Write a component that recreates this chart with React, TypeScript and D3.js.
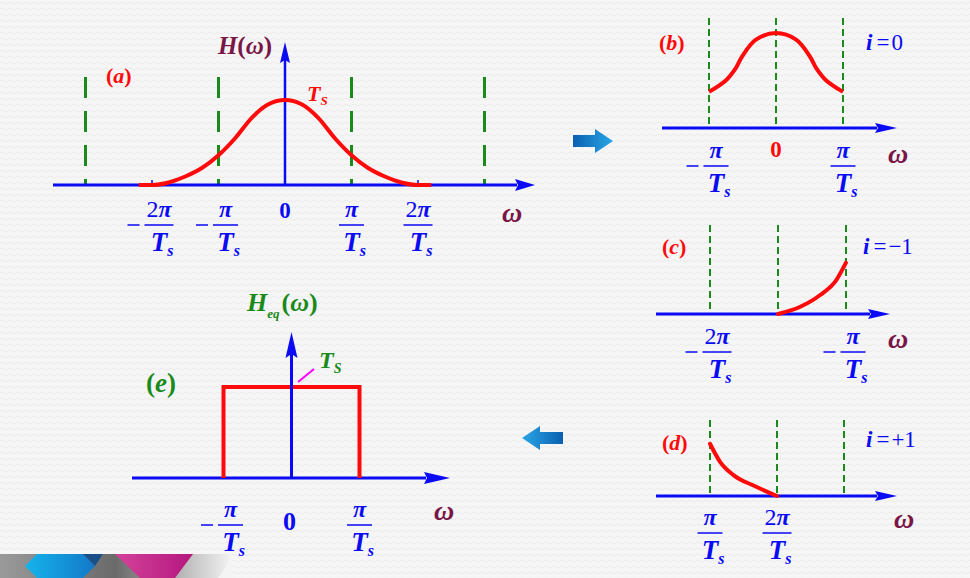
import React from 'react';
import * as d3 from 'd3';

// ω in units of π/Ts, values normalised to Ts
const aOmega = [-2.2, -2, -1.75, -1.5, -1.25, -1, -0.75, -0.5, -0.25, 0, 0.25, 0.5, 0.75, 1, 1.25, 1.5, 1.75, 2, 2.2];
const aValue = [0, 0, 0.03, 0.1, 0.2, 0.35, 0.55, 0.79, 0.95, 1, 0.95, 0.79, 0.55, 0.35, 0.2, 0.1, 0.03, 0, 0];
const aGrid = [-3, -1, 1, 3];
const aMarks = [-2, 2];
const aTickValues = [-2, -1, 1, 2];
const aTickNums = ['2π', 'π', 'π', '2π'];

const bOmega = [-1, -0.75, -0.6, -0.5, -0.3, 0, 0.3, 0.5, 0.6, 0.75, 1];
const bValue = [0.38, 0.5, 0.63, 0.76, 0.93, 1, 0.93, 0.76, 0.63, 0.5, 0.38];
const bGrid = [-1, 0, 1];
const bTickValues = [-1, 1];
const bTickNums = ['π', 'π'];

const cOmega = [-1.5, -1.34, -1.19, -1.07, -1.0];
const cValue = [0, 0.074, 0.2, 0.36, 0.54];
const cGrid = [-2, -1.5, -1];
const cTickValues = [-2, -1];
const cTickNums = ['2π', 'π'];

const dOmega = [1, 1.15, 1.35, 1.65, 2];
const dValue = [0.55, 0.36, 0.22, 0.11, 0];
const dGrid = [1, 2, 3];
const dTickValues = [1, 2];
const dTickNums = ['π', '2π'];

const eOmega = [-1, -1, 1, 1];
const eValue = [0, 1, 1, 0];
const eTickValues = [-1, 1];
const eTickNums = ['π', 'π'];

const BLUE = '#0a0af5';
const RED = '#ff0a0a';
const GREEN = '#1a8a1a';
const MAROON = '#7a1646';
const FONT = '"Liberation Serif", "DejaVu Serif", serif';

type XS = d3.ScaleLinear<number, number>;

function curvePath(x: XS, y: XS, xs: number[], ys: number[], curve: d3.CurveFactory) {
  const pts: [number, number][] = xs.map((v, i) => [v, ys[i]]);
  return d3.line<[number, number]>().x(d => x(d[0])).y(d => y(d[1])).curve(curve)(pts) || '';
}

function XAxis({ x0, x1, y, head = 20, half = 6 }: { x0: number; x1: number; y: number; head?: number; half?: number }) {
  return (
    <g>
      <line x1={x0} x2={x1 - head + 2} y1={y} y2={y} stroke={BLUE} strokeWidth={3} />
      <polygon points={`${x1},${y} ${x1 - head},${y - half} ${x1 - head + 3},${y} ${x1 - head},${y + half}`} fill={BLUE} />
    </g>
  );
}

function Frac({ x, bar, num, neg, color }: { x: number; bar: number; num: string; neg: boolean; color: string }) {
  const w = num.length > 1 ? 29 : 25;
  return (
    <g fill={color} fontFamily={FONT} fontWeight="bold">
      {neg && <line x1={x - w / 2 - 17} x2={x - w / 2 - 5} y1={bar} y2={bar} stroke={color} strokeWidth={1.5} />}
      <text x={x} y={bar - 8} textAnchor="middle" fontSize={24}>
        {num.length > 1 && <tspan fontWeight="normal">{num[0]}</tspan>}
        <tspan fontStyle="italic">π</tspan>
      </text>
      <line x1={x - w / 2} x2={x + w / 2} y1={bar} y2={bar} stroke={color} strokeWidth={1.5} />
      <text x={x + 3} y={bar + 26} textAnchor="middle" fontSize={27} fontStyle="italic">
        T<tspan fontSize={16} dy={5}>s</tspan>
      </text>
    </g>
  );
}

function Omega({ x, y }: { x: number; y: number }) {
  return <text x={x} y={y} textAnchor="middle" fontFamily={FONT} fontSize={28} fontWeight="bold" fontStyle="italic" fill={MAROON}>ω</text>;
}

function Tag({ x, y, letter, color, size = 22 }: { x: number; y: number; letter: string; color: string; size?: number }) {
  return (
    <text x={x} y={y} fontFamily={FONT} fontSize={size} fontWeight="bold" fill={color}>
      (<tspan fontStyle="italic">{letter}</tspan>)
    </text>
  );
}

function IEq({ x, y, rhs }: { x: number; y: number; rhs: string }) {
  return (
    <text x={x} y={y} fontFamily={FONT} fontSize={23} fill={BLUE}>
      <tspan fontStyle="italic" fontWeight="bold">i</tspan>
      <tspan dx={4}>=</tspan>
      <tspan dx={2}>{rhs}</tspan>
    </text>
  );
}

function Dashed({ x, xs, y0, y1, dash, width }: { x: XS; xs: number[]; y0: number; y1: number; dash: string; width: number }) {
  return (
    <g>
      {xs.map((v, i) => (
        <line key={i} x1={x(v)} x2={x(v)} y1={y0} y2={y1} stroke={GREEN} strokeWidth={width} strokeDasharray={dash} />
      ))}
    </g>
  );
}

export default function App() {
  // panel (a)
  const ax = d3.scaleLinear().domain([0, 1]).range([285, 351.5]);
  const ay = d3.scaleLinear().domain([0, 1]).range([185, 100]);
  // panel (b)
  const bx = d3.scaleLinear().domain([0, 1]).range([776, 843]);
  const by = d3.scaleLinear().domain([0, 1]).range([128, 33]);
  // panel (c)
  const cx = d3.scaleLinear().domain([-2, -1]).range([710, 846]);
  const cy = d3.scaleLinear().domain([0, 1]).range([314, 219]);
  // panel (d)
  const dx = d3.scaleLinear().domain([1, 2]).range([710, 777]);
  const dy = d3.scaleLinear().domain([0, 1]).range([496, 401]);
  // panel (e)
  const ex = d3.scaleLinear().domain([0, 1]).range([291.5, 359.5]);
  const ey = d3.scaleLinear().domain([0, 1]).range([478, 387]);

  const negShift = 7;

  return (
    <svg width={970} height={578} style={{ position: 'absolute', left: 0, top: 0 }}>
      <defs>
        <pattern id="bg" width={8} height={6} patternUnits="userSpaceOnUse">
          <rect width={8} height={6} fill="#f6f6f6" />
          <path d="M0,3 Q2,1 4,3 T8,3" fill="none" stroke="#ebebeb" strokeWidth={1} />
        </pattern>
        <linearGradient id="arrR" x1="0" x2="1" y1="0" y2="0">
          <stop offset="0" stopColor="#0a5fb0" />
          <stop offset="1" stopColor="#2aa6e6" />
        </linearGradient>
        <linearGradient id="arrL" x1="0" x2="1" y1="0" y2="0">
          <stop offset="0" stopColor="#2aa6e6" />
          <stop offset="1" stopColor="#0a5fb0" />
        </linearGradient>
        <linearGradient id="gray" x1="0" x2="1" y1="0" y2="0">
          <stop offset="0" stopColor="#9a9a9a" />
          <stop offset="0.5" stopColor="#6a6a6a" />
          <stop offset="1" stopColor="#f4f4f4" />
        </linearGradient>
        <linearGradient id="cyan" x1="0" x2="1" y1="0" y2="0">
          <stop offset="0" stopColor="#14b4ec" />
          <stop offset="1" stopColor="#1478c8" />
        </linearGradient>
        <linearGradient id="mag" x1="0" x2="1" y1="0" y2="0">
          <stop offset="0" stopColor="#d4429a" />
          <stop offset="1" stopColor="#b4187e" />
        </linearGradient>
      </defs>
      <rect width={970} height={578} fill="url(#bg)" />

      {/* decoration bottom-left */}
      <rect x={0} y={554} width={232} height={24} fill="url(#gray)" />
      <polygon points="25,566 37,554 83,554 95,566 83,578 37,578" fill="url(#cyan)" />
      <polygon points="83,554 103,554 95,566" fill="#1a4f8a" />
      <polygon points="115,554 193,554 175,578 140,578" fill="url(#mag)" />
      <path d="M232,554 Q226,568 218,578 L232,578 Z" fill="#f4f4f4" />

      {/* ===== panel (a) ===== */}
      <Dashed x={ax} xs={aGrid} y0={77} y1={185} dash="21 13" width={3} />
      <XAxis x0={53} x1={535} y={185} />
      <line x1={ax(0)} x2={ax(0)} y1={185} y2={58} stroke={BLUE} strokeWidth={2.5} />
      <polygon points={`${ax(0)},42 ${ax(0) - 5},63 ${ax(0)},60 ${ax(0) + 5},63`} fill={BLUE} />
      {aMarks.map((v, i) => (
        <line key={i} x1={ax(v)} x2={ax(v)} y1={185} y2={180} stroke={BLUE} strokeWidth={1.5} />
      ))}
      <path d={curvePath(ax, ay, aOmega, aValue, d3.curveMonotoneX)} fill="none" stroke={RED} strokeWidth={4} strokeLinejoin="round" />
      <text x={245} y={54} textAnchor="middle" fontFamily={FONT} fontSize={25} fontWeight="bold" fill={MAROON}>
        <tspan fontStyle="italic">H</tspan>(<tspan fontStyle="italic">ω</tspan>)
      </text>
      <text x={307} y={101} fontFamily={FONT} fontSize={22} fontWeight="bold" fontStyle="italic" fill={RED}>
        T<tspan fontSize={13} dy={4}>S</tspan>
      </text>
      <Tag x={106} y={83} letter="a" color={RED} />
      {aTickValues.map((v, i) => (
        <Frac key={i} x={ax(v) + (v < 0 ? negShift : 0)} bar={225} num={aTickNums[i]} neg={v < 0} color={BLUE} />
      ))}
      <text x={ax(0)} y={218} textAnchor="middle" fontFamily={FONT} fontSize={23} fontWeight="bold" fill={BLUE}>0</text>
      <Omega x={512} y={222} />

      {/* arrow right */}
      <polygon points="573,135 595,135 595,129 613,141 595,153 595,147 573,147" fill="url(#arrR)" />

      {/* ===== panel (b) ===== */}
      <Dashed x={bx} xs={bGrid} y0={18} y1={128} dash="7 4" width={2} />
      <XAxis x0={662} x1={897} y={128} head={22} half={5} />
      <path d={curvePath(bx, by, bOmega, bValue, d3.curveCatmullRom)} fill="none" stroke={RED} strokeWidth={4} strokeLinejoin="round" />
      <Tag x={659} y={50} letter="b" color={RED} />
      <IEq x={866} y={50} rhs="0" />
      {bTickValues.map((v, i) => (
        <Frac key={i} x={bx(v) + (v < 0 ? negShift : 0)} bar={166} num={bTickNums[i]} neg={v < 0} color={BLUE} />
      ))}
      <text x={bx(0)} y={157} textAnchor="middle" fontFamily={FONT} fontSize={23} fontWeight="bold" fill={RED}>0</text>
      <Omega x={898} y={163} />

      {/* ===== panel (c) ===== */}
      <Dashed x={cx} xs={cGrid} y0={225} y1={314} dash="7 4" width={2} />
      <XAxis x0={656} x1={890} y={314} head={22} half={5} />
      <path d={curvePath(cx, cy, cOmega, cValue, d3.curveMonotoneX)} fill="none" stroke={RED} strokeWidth={4} strokeLinecap="round" />
      <Tag x={662} y={254} letter="c" color={RED} />
      <IEq x={863} y={254} rhs="−1" />
      {cTickValues.map((v, i) => (
        <Frac key={i} x={cx(v) + negShift} bar={352} num={cTickNums[i]} neg={true} color={BLUE} />
      ))}
      <Omega x={898} y={348} />

      {/* ===== panel (d) ===== */}
      <Dashed x={dx} xs={dGrid} y0={420} y1={496} dash="7 4" width={2} />
      <XAxis x0={656} x1={897} y={496} head={22} half={5} />
      <path d={curvePath(dx, dy, dOmega, dValue, d3.curveMonotoneX)} fill="none" stroke={RED} strokeWidth={4} strokeLinecap="round" />
      <Tag x={662} y={450} letter="d" color={RED} />
      <IEq x={866} y={447} rhs="+1" />
      {dTickValues.map((v, i) => (
        <Frac key={i} x={dx(v)} bar={533} num={dTickNums[i]} neg={false} color={BLUE} />
      ))}
      <Omega x={904} y={528} />

      {/* arrow left */}
      <polygon points="522,438 540,426 540,432 563,432 563,444 540,444 540,450" fill="url(#arrL)" />

      {/* ===== panel (e) ===== */}
      <XAxis x0={132} x1={450} y={478} head={26} half={6} />
      <path d={curvePath(ex, ey, eOmega, eValue, d3.curveLinear)} fill="none" stroke={RED} strokeWidth={4} />
      <line x1={ex(0)} x2={ex(0)} y1={478} y2={352} stroke={BLUE} strokeWidth={3} />
      <polygon points={`${ex(0)},332 ${ex(0) - 6},358 ${ex(0)},354 ${ex(0) + 6},358`} fill={BLUE} />
      <line x1={298} y1={382} x2={314} y2={369} stroke="#ff00ff" strokeWidth={2} />
      <text x={319} y={368} fontFamily={FONT} fontSize={24} fontWeight="bold" fontStyle="italic" fill={GREEN}>
        T<tspan fontSize={14} dy={5}>S</tspan>
      </text>
      <text x={247} y={311} fontFamily={FONT} fontSize={26} fontWeight="bold" fill={GREEN}>
        <tspan fontStyle="italic">H</tspan>
        <tspan fontStyle="italic" fontSize={13} dy={7}>eq</tspan>
        <tspan dy={-7} dx={2}>(</tspan>
        <tspan fontStyle="italic">ω</tspan>)
      </text>
      <Tag x={146} y={392} letter="e" color={GREEN} size={27} />
      {eTickValues.map((v, i) => (
        <Frac key={i} x={ex(v) + (v < 0 ? negShift : 0)} bar={525} num={eTickNums[i]} neg={v < 0} color={BLUE} />
      ))}
      <text x={ex(0) - 2} y={530} textAnchor="middle" fontFamily={FONT} fontSize={26} fontWeight="bold" fill={BLUE}>0</text>
      <Omega x={444} y={520} />
    </svg>
  );
}
